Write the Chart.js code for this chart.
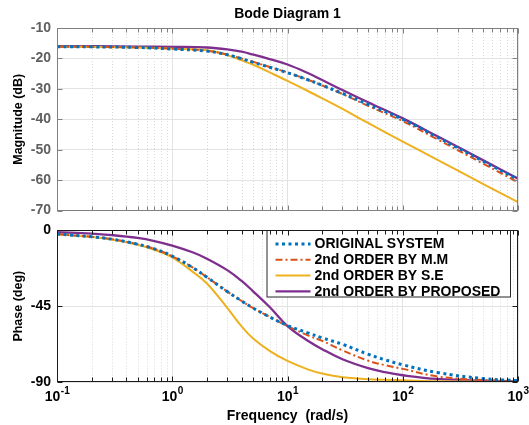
<!DOCTYPE html>
<html><head><meta charset="utf-8">
<script src="https://cdn.jsdelivr.net/npm/chart.js@4.4.1/dist/chart.umd.min.js"></script>
<style>
html,body{margin:0;padding:0;background:#fff;}
#wrap{position:relative;width:529px;height:425px;background:#fff;overflow:hidden;}
#mag{position:absolute;left:0;top:0;}
#pha{position:absolute;left:0;top:216px;}
</style></head><body>
<div id="wrap"><canvas id="mag" width="529" height="225"></canvas><canvas id="pha" width="529" height="209"></canvas></div>
<script>
// ---------- data ----------
const seriesNames = ['ORIGINAL SYSTEM', '2nd ORDER BY M.M', '2nd ORDER BY S.E', '2nd ORDER BY PROPOSED'];

const magFreq      = [0.1, 0.2, 0.5, 1, 2, 3, 4, 5, 7, 10, 15, 20, 30, 50, 100, 200, 500, 1000];
const magOriginal  = [-16.2, -16.2, -16.4, -16.9, -17.6, -18.8, -20.1, -21.2, -22.9, -24.7, -27.0, -28.8, -31.5, -35.1, -40.0, -45.9, -53.8, -59.8];
const magMM        = [-16.2, -16.2, -16.4, -16.8, -17.5, -18.7, -20.0, -21.1, -22.8, -24.6, -27.0, -28.9, -31.7, -35.6, -40.6, -46.6, -54.6, -60.7];
const magSE        = [-16.2, -16.2, -16.4, -16.8, -17.3, -18.9, -20.6, -22.0, -24.6, -27.4, -30.7, -33.1, -36.6, -41.2, -47.3, -53.3, -61.3, -67.2];
const magProposed  = [-16.0, -16.0, -16.1, -16.2, -16.4, -17.0, -17.8, -18.7, -20.2, -22.0, -24.8, -27.1, -30.4, -34.4, -39.7, -45.6, -53.5, -59.5];

const phaseFreq     = [0.1, 0.2, 0.3, 0.5, 0.7, 1, 1.5, 2, 3, 4, 5, 7, 10, 15, 20, 30, 50, 70, 100, 200, 500, 1000];
const phaseOriginal = [-2.2, -3.8, -5.2, -8.2, -11.0, -15.3, -22.0, -27.8, -36.3, -41.9, -46.0, -51.4, -56.5, -60.8, -63.8, -67.6, -73.5, -76.8, -79.8, -84.4, -88.0, -89.2];
const phaseMM       = [-2.2, -3.8, -5.2, -8.2, -11.0, -15.3, -22.0, -27.8, -36.3, -41.9, -46.0, -51.4, -56.8, -62.3, -65.6, -71.2, -77.3, -80.0, -82.2, -86.7, -88.8, -89.5];
const phaseSE       = [-2.3, -3.9, -5.4, -8.5, -11.5, -16.0, -24.5, -31.5, -46.0, -57.0, -64.0, -71.5, -77.5, -82.5, -85.0, -87.2, -88.3, -88.7, -89.0, -89.6, -89.8, -89.9];
const phaseProposed = [-1.1, -1.9, -2.8, -4.5, -6.3, -9.0, -13.0, -16.8, -23.6, -30.0, -36.0, -45.5, -56.8, -65.5, -70.5, -76.5, -81.8, -84.2, -86.0, -88.2, -89.2, -89.6];

const xTickValues    = [0.1, 1, 10, 100, 1000];
const xTickExponents = ['-1', '0', '1', '2', '3'];
const xMinorMultipliers = [2, 3, 4, 5, 6, 7, 8, 9];
const magTicks   = [-70, -60, -50, -40, -30, -20, -10];
const phaseTicks = [-90, -45, 0];

// ---------- helpers ----------
const FONT = "'Liberation Sans', Arial, Helvetica, sans-serif";
const xMinorValues = [];
xTickValues.slice(0, -1).forEach(d => xMinorMultipliers.forEach(m => xMinorValues.push(d * m)));
const isMajor = v => Math.abs(Math.log10(v) - Math.round(Math.log10(v))) < 1e-6;

const styles = [
  {color: '#0072BD', width: 3,   dash: [3, 3.5]},
  {color: '#D95319', width: 2,   dash: [7, 3, 2, 3]},
  {color: '#EDB120', width: 2,   dash: []},
  {color: '#7E2F8E', width: 2.3, dash: []}
];
function makeSets(freq, series) {
  return series.map((vals, i) => ({
    label: seriesNames[i],
    data: freq.map((f, k) => ({x: f, y: vals[k]})),
    borderColor: styles[i].color,
    backgroundColor: styles[i].color,
    borderWidth: styles[i].width,
    borderDash: styles[i].dash,
    borderCapStyle: 'butt',
    borderJoinStyle: 'round',
    pointRadius: 0,
    tension: 0.4,
    fill: false
  }));
}

const framePlugin = {
  id: 'frame',
  beforeDatasetsDraw(chart, args, o) {
    const {ctx, chartArea: a} = chart; const x = chart.scales.x;
    ctx.save(); ctx.strokeStyle = '#dadada'; ctx.lineWidth = 1; ctx.setLineDash([1, 2]);
    ctx.beginPath();
    xMinorValues.forEach(v => { const px = Math.round(x.getPixelForValue(v)) + 0.5; ctx.moveTo(px, a.top); ctx.lineTo(px, a.bottom); });
    ctx.stroke(); ctx.restore();
  },
  afterDraw(chart, args, o) {
    const {ctx, chartArea: a} = chart; const x = chart.scales.x, y = chart.scales.y;
    ctx.save(); ctx.strokeStyle = o.color; ctx.lineWidth = 1; ctx.setLineDash([]);
    const L = Math.round(a.left) + 0.5, R = Math.round(a.right) - 0.5, T = Math.round(a.top) + 0.5, B = Math.round(a.bottom) - 0.5;
    ctx.strokeRect(L, T, R - L, B - T);
    ctx.beginPath();
    xTickValues.concat(xMinorValues).forEach(v => {
      const px = Math.round(x.getPixelForValue(v)) + 0.5; const len = isMajor(v) ? 5 : 4;
      ctx.moveTo(px, T); ctx.lineTo(px, T + len); ctx.moveTo(px, B); ctx.lineTo(px, B - len);
    });
    (o.yTicks || []).forEach(v => {
      const py = Math.round(y.getPixelForValue(v)) + 0.5;
      ctx.moveTo(L, py); ctx.lineTo(L + 5, py); ctx.moveTo(R, py); ctx.lineTo(R - 5, py);
    });
    ctx.stroke();
    if (o.xLabels) {
      ctx.fillStyle = '#000'; ctx.textBaseline = 'middle'; ctx.textAlign = 'left';
      xTickValues.forEach((v, i) => {
        const px = x.getPixelForValue(v);
        ctx.font = 'bold 14px ' + FONT; const wb = ctx.measureText('10').width;
        ctx.font = 'bold 10px ' + FONT; const we = ctx.measureText(xTickExponents[i]).width;
        const start = px - (wb + we) / 2;
        ctx.font = 'bold 14px ' + FONT; ctx.fillText('10', start, a.bottom + 15);
        ctx.font = 'bold 10px ' + FONT; ctx.fillText(xTickExponents[i], start + wb + 0.5, a.bottom + 9);
      });
    }
    ctx.restore();
  }
};

const boxLegend = {
  id: 'boxLegend',
  afterDatasetsDraw(chart, args, o) {
    if (!o.show) return;
    const {ctx, chartArea: a} = chart;
    const right = Math.round(a.right) - 8, top = Math.round(a.top) + 0.5;
    const left = right - 243.5, h = 66.5;
    ctx.save();
    ctx.fillStyle = '#fff'; ctx.fillRect(left, top, right - left, h);
    ctx.strokeStyle = '#262626'; ctx.lineWidth = 1; ctx.setLineDash([]);
    ctx.strokeRect(left + 0.5, top, right - left, h);
    chart.data.datasets.forEach((d, i) => {
      const cy = top + 13.5 + i * 15.8;
      ctx.strokeStyle = d.borderColor; ctx.lineWidth = d.borderWidth; ctx.lineCap = 'butt';
      ctx.setLineDash(d.borderDash || []);
      ctx.beginPath(); ctx.moveTo(left + 9, cy); ctx.lineTo(left + 44, cy); ctx.stroke();
      ctx.setLineDash([]);
      ctx.fillStyle = '#000'; ctx.font = 'bold 14px ' + FONT; ctx.textBaseline = 'middle'; ctx.textAlign = 'left';
      ctx.fillText(d.label, left + 48, cy + 0.5);
    });
    ctx.restore();
  }
};

const gridColor = '#e3e3e3';
function xScale(extra) {
  return Object.assign({
    type: 'logarithmic', min: 0.1, max: 1000,
    ticks: {display: false, autoSkip: false},
    grid: {drawTicks: false, color: c => (c.tick && isMajor(c.tick.value)) ? gridColor : 'rgba(0,0,0,0)'},
    border: {display: false}
  }, extra);
}
function yScale(min, max, step, color, title, extra) {
  return Object.assign({
    min, max,
    ticks: {stepSize: step, color, font: {family: FONT, size: 14, weight: 'bold'}, padding: 6},
    grid: {drawTicks: false, color: gridColor},
    border: {display: false},
    title: {display: true, text: title, color: '#000', font: {family: FONT, size: 12.5, weight: 'bold'}, padding: {top: 11.5, bottom: 0}},
    afterFit: s => { s.width = 57; }
  }, extra);
}

Chart.defaults.font.family = FONT;

new Chart(document.getElementById('mag'), {
  type: 'line',
  data: {datasets: makeSets(magFreq, [magOriginal, magMM, magSE, magProposed])},
  options: {
    responsive: false, animation: false, devicePixelRatio: 1, events: [],
    layout: {padding: {left: 0, right: 11, top: 0, bottom: 13}},
    scales: {
      x: xScale({afterFit: s => { s.height = 0; }}),
      y: yScale(-70, -10, 10, '#5f5f5f', 'Magnitude (dB)')
    },
    plugins: {
      legend: {display: false}, tooltip: {enabled: false},
      title: {display: true, text: 'Bode Diagram 1', fullSize: false, color: '#000',
              font: {family: FONT, size: 14, weight: 'bold'}, padding: {top: 6, bottom: 5.2}},
      frame: {color: '#808080', yTicks: magTicks},
      boxLegend: {show: false}
    }
  },
  plugins: [framePlugin, boxLegend]
});

new Chart(document.getElementById('pha'), {
  type: 'line',
  data: {datasets: makeSets(phaseFreq, [phaseOriginal, phaseMM, phaseSE, phaseProposed])},
  options: {
    responsive: false, animation: false, devicePixelRatio: 1, events: [],
    layout: {padding: {left: 0, right: 11, top: 7, bottom: 0}},
    scales: {
      x: xScale({
        title: {display: true, text: 'Frequency  (rad/s)', color: '#000', font: {family: FONT, size: 14, weight: 'bold'}, padding: {top: 0, bottom: 0.6}},
        afterFit: s => { s.height = 43; }
      }),
      y: yScale(-90, 0, 45, '#000', 'Phase (deg)')
    },
    plugins: {
      legend: {display: false}, tooltip: {enabled: false}, title: {display: false},
      frame: {color: '#1a1a1a', yTicks: phaseTicks, xLabels: true},
      boxLegend: {show: true}
    }
  },
  plugins: [framePlugin, boxLegend]
});
</script>
</body></html>
